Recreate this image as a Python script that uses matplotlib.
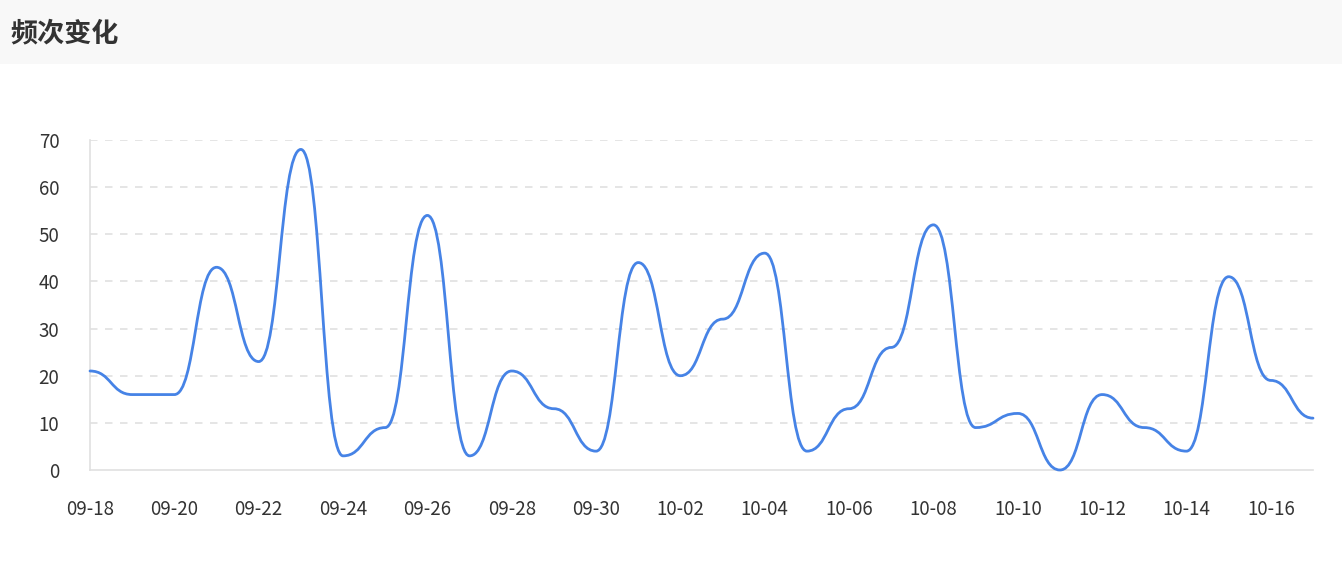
import numpy as np
import matplotlib
matplotlib.use("Agg")
import matplotlib.pyplot as plt
from matplotlib.path import Path
from matplotlib.patches import PathPatch, Rectangle

plt.rcParams['font.family'] = ['Noto Sans CJK SC', 'DejaVu Sans']

# data
dates = ['09-18', '09-19', '09-20', '09-21', '09-22', '09-23', '09-24', '09-25',
         '09-26', '09-27', '09-28', '09-29', '09-30', '10-01', '10-02', '10-03',
         '10-04', '10-05', '10-06', '10-07', '10-08', '10-09', '10-10', '10-11',
         '10-12', '10-13', '10-14', '10-15', '10-16', '10-17']
counts = [21, 16, 16, 43, 23, 68, 3, 9, 54, 3, 21, 13, 4, 44, 20, 32,
          46, 4, 13, 26, 52, 9, 12, 0, 16, 9, 4, 41, 19, 11]
y_ticks = [0, 10, 20, 30, 40, 50, 60, 70]
title = '频次变化'

W, H = 1342, 561
fig = plt.figure(figsize=(W / 100, H / 100), dpi=100)
fig.patch.set_facecolor('white')

# header band
fig.patches.append(Rectangle((0, 1 - 64 / H), 1, 64 / H, transform=fig.transFigure,
                             facecolor='#f8f8f8', edgecolor='none', zorder=0))
fig.text(10 / W, 1 - 33 / H, title, fontsize=19.5, fontweight='bold',
         color='#333333', va='center', ha='left')

ax = fig.add_axes([90 / W, (H - 470) / H, 1223 / W, 330 / H])
ax.set_xlim(0, len(dates) - 1)
ax.set_ylim(0, 70)

for s in ['top', 'right']:
    ax.spines[s].set_visible(False)
for s in ['left', 'bottom']:
    ax.spines[s].set_color('#e0e0e0')
    ax.spines[s].set_linewidth(1.2)

ax.set_yticks(y_ticks)
ax.set_yticklabels([str(v) for v in y_ticks])
xs = np.arange(len(dates))
ax.set_xticks(xs[::2])
ax.set_xticklabels(dates[::2])
ax.tick_params(axis='both', length=0, labelsize=13.5, labelcolor='#333333')
ax.tick_params(axis='y', pad=22)
ax.tick_params(axis='x', pad=21)

for v in y_ticks[1:]:
    ax.axhline(v, color='#e0e0e0', lw=1.2, linestyle=(0, (4.5, 4.5)), zorder=1)


def smooth_path(px, py, smooth=0.5):
    # cubic segments with flat tangents at every point (monotone in x)
    verts = [(px[0], py[0])]
    codes = [Path.MOVETO]
    for k in range(1, len(px)):
        x0, y0 = px[k - 1], py[k - 1]
        x1, y1 = px[k], py[k]
        dx = (x1 - x0) * smooth
        verts += [(x0 + dx, y0), (x1 - dx, y1), (x1, y1)]
        codes += [Path.CURVE4] * 3
    return verts, codes


pix = ax.transData.transform(np.column_stack([xs, counts]))
verts, codes = smooth_path(pix[:, 0], pix[:, 1])
data_verts = ax.transData.inverted().transform(np.array(verts))
patch = PathPatch(Path(data_verts, codes), facecolor='none', edgecolor='#4683e6',
                  lw=2.0, zorder=3, clip_on=False, capstyle='round', joinstyle='round')
ax.add_patch(patch)

fig.savefig('out.png', dpi=100)
